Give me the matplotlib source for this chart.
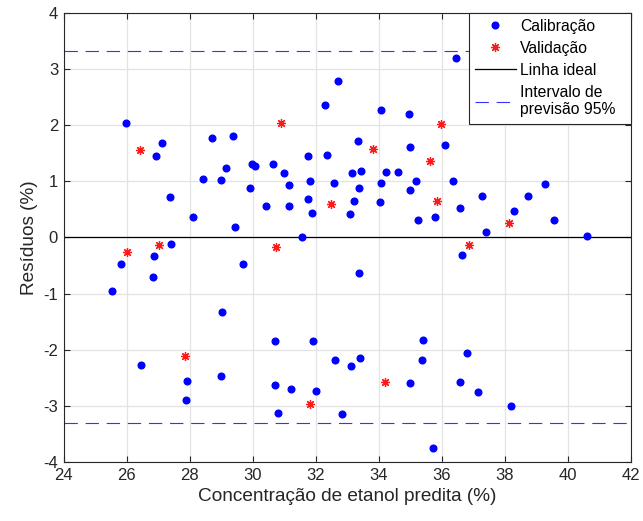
import matplotlib.pyplot as plt

plt.rcParams['font.family'] = ['Liberation Sans', 'DejaVu Sans']
plt.rcParams['axes.unicode_minus'] = False

# calibration samples: predicted concentration (%) and residual (%)
cal_x = [25.97, 27.13, 26.92, 28.71, 29.37, 29.15, 29.99, 30.08, 30.65, 28.41,
         29.00, 29.90, 27.37, 30.41, 28.10, 29.45,
         36.44, 32.70, 32.29, 34.07, 34.95, 33.33, 34.98, 36.11, 31.75, 32.37,
         30.99, 31.16, 31.83, 32.58, 33.15, 33.45, 33.37, 34.08, 34.24, 34.61,
         35.19, 34.99, 36.36, 31.75, 31.16, 31.87, 33.21, 33.08, 34.03, 36.57,
         35.25, 35.78, 31.57,
         37.27, 38.29, 38.74, 39.28, 39.57, 37.42, 40.60,
         27.42, 25.83, 26.88, 26.83, 25.54, 29.69, 29.03, 30.71, 26.45, 28.99,
         27.91, 30.71, 27.87, 30.79,
         33.37, 31.90, 32.62, 33.11, 33.40, 35.41, 35.37, 34.99, 36.57, 36.79,
         31.21, 32.00, 32.83, 35.73, 36.65, 37.15, 38.19]
cal_y = [2.04, 1.67, 1.44, 1.77, 1.81, 1.23, 1.31, 1.26, 1.31, 1.04,
         1.02, 0.88, 0.72, 0.55, 0.37, 0.18,
         3.19, 2.79, 2.35, 2.26, 2.19, 1.72, 1.60, 1.65, 1.44, 1.47,
         1.14, 0.93, 1.00, 0.97, 1.14, 1.18, 0.88, 0.97, 1.16, 1.16,
         1.00, 0.84, 1.00, 0.69, 0.55, 0.44, 0.65, 0.42, 0.62, 0.53,
         0.30, 0.36, 0.00,
         0.74, 0.46, 0.74, 0.95, 0.30, 0.09, 0.02,
         -0.12, -0.47, -0.33, -0.70, -0.96, -0.47, -1.33, -1.84, -2.27, -2.47,
         -2.55, -2.62, -2.90, -3.13,
         -0.63, -1.84, -2.18, -2.29, -2.15, -1.82, -2.18, -2.59, -2.57, -2.06,
         -2.70, -2.73, -3.15, -3.74, -0.31, -2.76, -3.01]

# validation samples
val_x = [26.42, 30.91, 35.98, 33.83, 35.62, 32.49, 35.86, 38.15,
         27.04, 26.00, 27.86, 30.74, 34.20, 31.82, 36.86]
val_y = [1.55, 2.04, 2.01, 1.58, 1.35, 0.60, 0.65, 0.25,
         -0.14, -0.26, -2.12, -0.17, -2.57, -2.96, -0.14]

limite = 3.31  # 95% prediction interval

fig = plt.figure(figsize=(6.43, 5.21), dpi=100)
ax = fig.add_axes([0.099, 0.113, 0.882, 0.863])

ax.plot(cal_x, cal_y, 'o', color='#0000ff', markersize=4.8, label='Calibração', zorder=3)
ax.plot(val_x, val_y, linestyle='none', marker=(8, 2, 0), color='#ff1a1a',
        markersize=6.5, markeredgewidth=0.9, label='Validação', zorder=3)
ax.axhline(0, color='black', linewidth=0.9, label='Linha ideal', zorder=2)
ax.axhline(limite, color='#3333ff', linewidth=0.8, dashes=(12, 7),
           label='Intervalo de\nprevisão 95%  ', zorder=2)
ax.axhline(-limite, color='#3333ff', linewidth=0.8, dashes=(12, 7), zorder=2)

ax.set_xlim(24, 42)
ax.set_ylim(-4, 4)
ax.set_xticks(range(24, 43, 2))
ax.set_yticks(range(-4, 5))
ax.grid(True, color='#e3e3e3', linewidth=0.9)
ax.set_axisbelow(True)
ax.tick_params(direction='in', top=True, right=True, length=4, width=0.8,
               labelsize=12, colors='#262626', pad=4)
for s in ax.spines.values():
    s.set_color('#262626')
    s.set_linewidth(0.8)

ax.set_xlabel('Concentração de etanol predita (%)', fontsize=13.7, color='#262626')
ax.set_ylabel('Resíduos (%)', fontsize=13.7, color='#262626')

leg = ax.legend(loc='upper right', fontsize=11.3, fancybox=False, framealpha=1,
                edgecolor='#262626', borderaxespad=0, handlelength=2.6,
                labelspacing=0.45, borderpad=0.4, handletextpad=0.3)
leg.get_frame().set_linewidth(0.8)

plt.savefig('out.png', dpi=100)
